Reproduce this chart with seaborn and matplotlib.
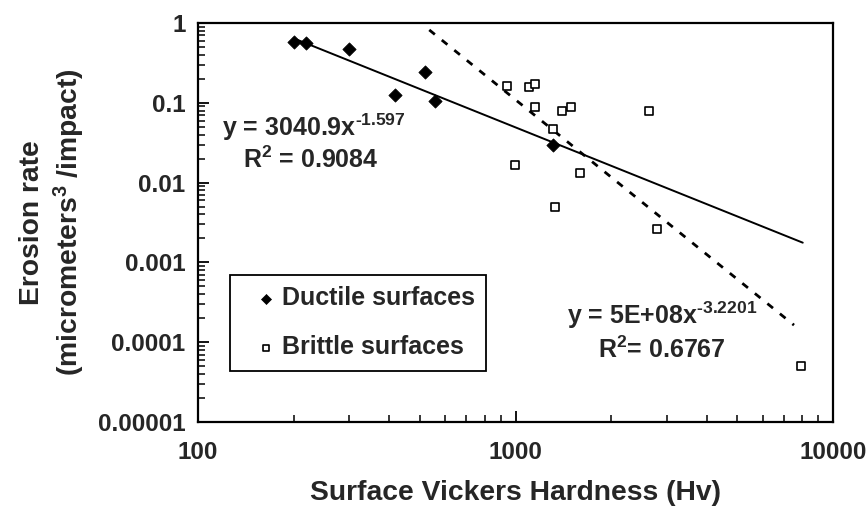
import numpy as np
import pandas as pd
import matplotlib
matplotlib.use('Agg')
import matplotlib.pyplot as plt
import seaborn as sns
from matplotlib.ticker import LogLocator, NullFormatter

# ---- data ----
ductile_hv = [200, 219, 300, 417, 519, 558, 1309]
ductile_rate = [0.573, 0.557, 0.468, 0.124, 0.241, 0.106, 0.0296]

brittle_hv = [942, 1103, 1149, 1149, 1398, 1500, 2639, 1309, 999, 1596, 1335, 2786, 7925]
brittle_rate = [0.162, 0.156, 0.171, 0.0879, 0.0782, 0.0879, 0.078, 0.0466,
                0.0165, 0.0133, 0.00494, 0.00265, 5.03e-5]

# power-law trendlines printed on the chart: y = a * x^b
ductile_fit = (3040.9, -1.597)
brittle_fit = (5e8, -3.2201)
ductile_fit_range = [200, 8030]
brittle_fit_range = [535, 7536]

x_ticks = [100, 1000, 10000]
x_tick_labels = ['100', '1000', '10000']
y_ticks = [1e-5, 1e-4, 1e-3, 1e-2, 1e-1, 1]
y_tick_labels = ['0.00001', '0.0001', '0.001', '0.01', '0.1', '1']

series_labels = ['Ductile surfaces', 'Brittle surfaces']

# ---- style ----
sns.set_style('ticks')
plt.rcParams['font.family'] = ['Liberation Sans', 'DejaVu Sans']
plt.rcParams['font.weight'] = 'bold'
plt.rcParams['mathtext.fontset'] = 'custom'
plt.rcParams['mathtext.rm'] = 'Liberation Sans:bold'
plt.rcParams['mathtext.it'] = 'Liberation Sans:bold'
plt.rcParams['mathtext.bf'] = 'Liberation Sans:bold'
plt.rcParams['mathtext.default'] = 'rm'

fig = plt.figure(figsize=(8.66, 5.2), dpi=100)
ax = fig.add_axes([198 / 866, 1 - 422 / 520, 635 / 866, 399 / 520])

df_d = pd.DataFrame({'hv': ductile_hv, 'rate': ductile_rate})
df_b = pd.DataFrame({'hv': brittle_hv, 'rate': brittle_rate})

# trend lines
fx_d = np.array(ductile_fit_range, dtype=float)
fy_d = ductile_fit[0] * fx_d ** ductile_fit[1]
fx_b = np.array(brittle_fit_range, dtype=float)
fy_b = brittle_fit[0] * fx_b ** brittle_fit[1]
sns.lineplot(x=fx_d, y=fy_d, color='black', linewidth=1.4, ax=ax, legend=False)
sns.lineplot(x=fx_b, y=fy_b, color='black', linewidth=2.0, linestyle=(0, (2.6, 3.2)),
             ax=ax, legend=False)

sns.scatterplot(data=df_d, x='hv', y='rate', marker='D', s=46, color='black',
                edgecolor='black', linewidth=0.5, ax=ax, zorder=3)
h_d = ax.collections[-1]
sns.scatterplot(data=df_b, x='hv', y='rate', marker='s', s=38, color='white',
                edgecolor='black', linewidth=1.2, ax=ax, zorder=3)
h_b = ax.collections[-1]

ax.set_xscale('log')
ax.set_yscale('log')
ax.set_xlim(100, 10000)
ax.set_ylim(1e-5, 1)
ax.set_xticks(x_ticks, x_tick_labels)
ax.set_yticks(y_ticks, y_tick_labels)
ax.xaxis.set_minor_locator(LogLocator(base=10, subs=np.arange(2, 10)))
ax.yaxis.set_minor_locator(LogLocator(base=10, subs=np.arange(2, 10)))
ax.xaxis.set_minor_formatter(NullFormatter())
ax.yaxis.set_minor_formatter(NullFormatter())
ax.tick_params(which='both', direction='in', top=False, right=False, color='black')
ax.tick_params(which='major', length=8, width=1.3, labelsize=17.5, pad=9)
ax.tick_params(which='minor', length=5, width=1.1)
ax.tick_params(axis='x', which='major', pad=14)
for s in ax.spines.values():
    s.set_linewidth(1.6)
    s.set_color('black')

ax.set_xlabel('Surface Vickers Hardness (Hv)', fontsize=20.3, fontweight='bold', labelpad=11)
ax.set_ylabel('Erosion rate\n(micrometers$^{3}$ /impact)', fontsize=20.3, fontweight='bold',
              labelpad=8, linespacing=1.25)

ax.text(0.038, 0.739, r'y = 3040.9x$^{\text{-}1.597}$', transform=ax.transAxes,
        fontsize=18, va='center', ha='left')
ax.text(0.071, 0.657, r'R$^{2}$ = 0.9084', transform=ax.transAxes,
        fontsize=18, va='center', ha='left')
ax.text(0.581, 0.268, r'y = 5E+08x$^{\text{-}3.2201}$', transform=ax.transAxes,
        fontsize=18, va='center', ha='left')
ax.text(0.630, 0.180, r'R$^{2}$= 0.6767', transform=ax.transAxes,
        fontsize=18, va='center', ha='left')

leg = ax.legend(handles=[h_d, h_b], labels=series_labels, loc='upper left',
                bbox_to_anchor=(0.050, 0.368), fontsize=18, frameon=True,
                fancybox=False, shadow=False, handlelength=2.0, handletextpad=-0.36,
                borderpad=0.45, labelspacing=1.0, markerscale=0.75, borderaxespad=0)
leg.get_frame().set_edgecolor('black')
leg.get_frame().set_linewidth(1.3)
leg.get_frame().set_alpha(1)

fig.savefig('out.png', dpi=100, facecolor='white')
